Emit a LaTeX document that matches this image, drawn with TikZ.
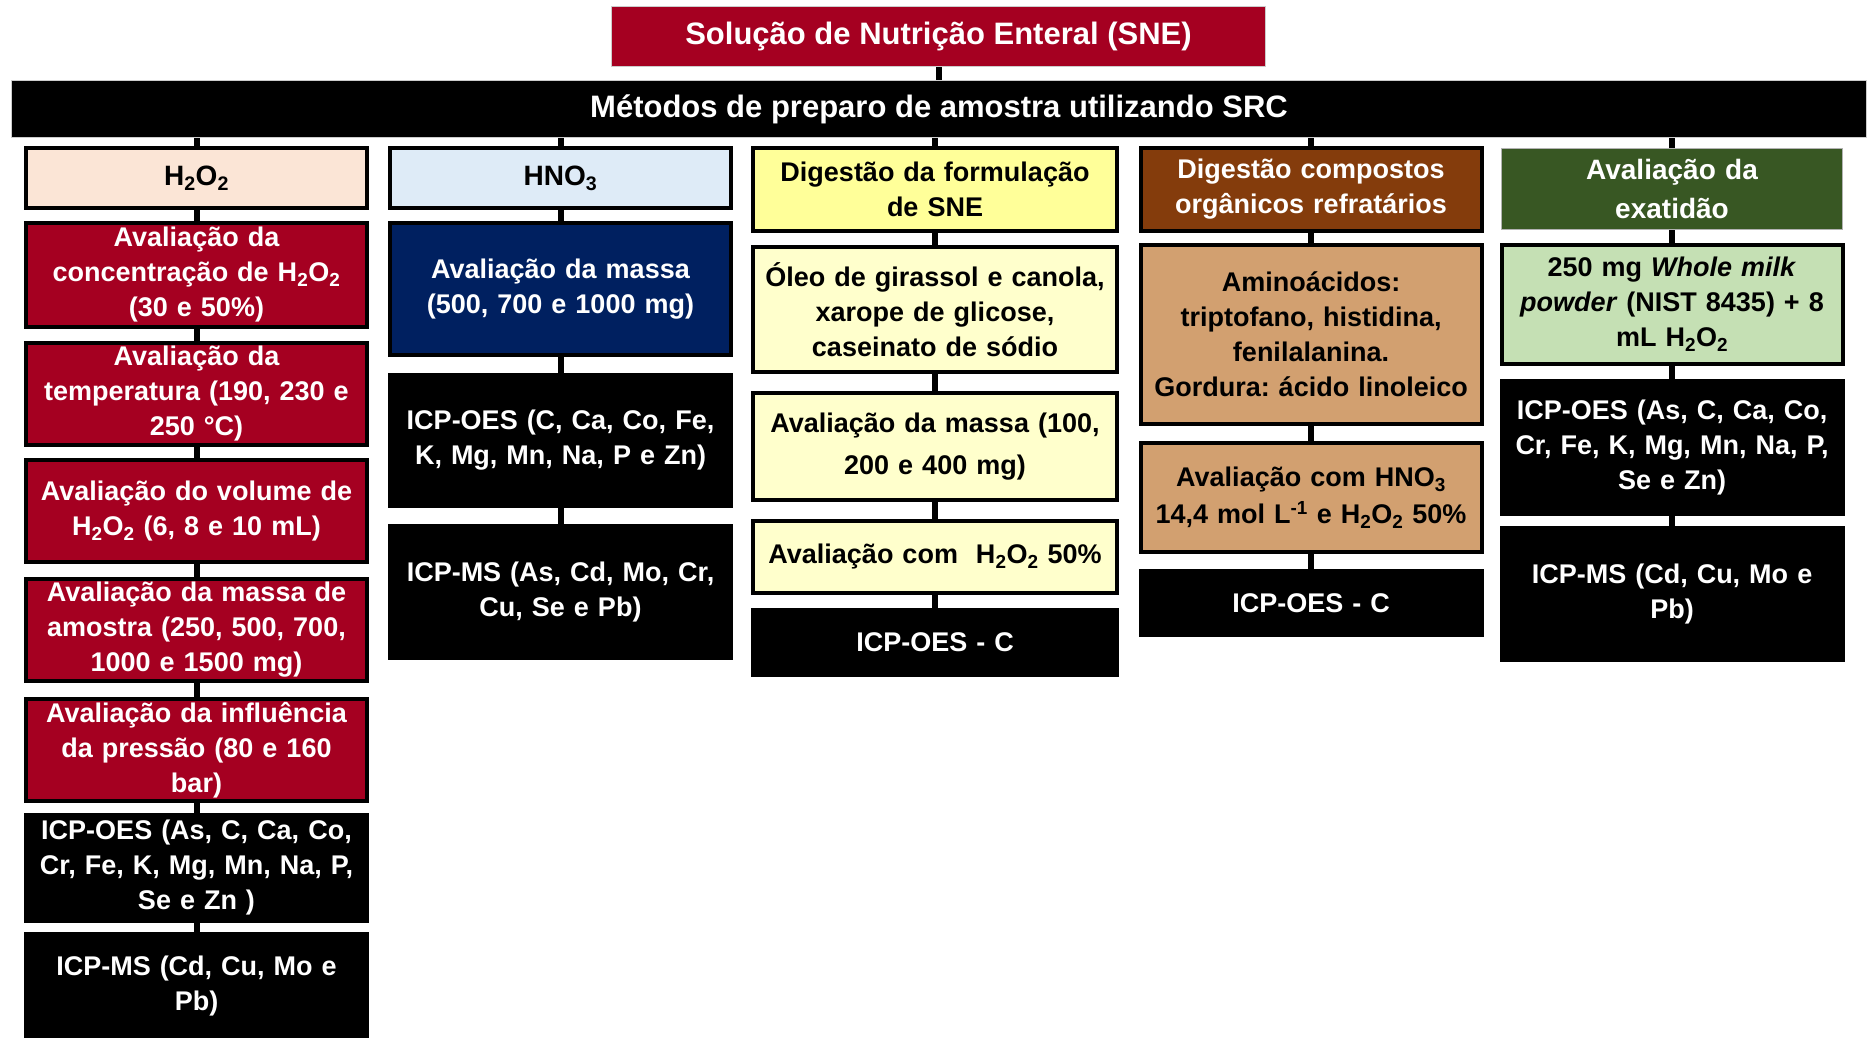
\documentclass[tikz,border=0pt]{standalone}
\usepackage{fontspec}
\setmainfont{Liberation Sans}
\usepackage{xcolor}
\usepackage{tikz}
\usetikzlibrary{positioning, calc}
\frenchspacing

\definecolor{sneRed}{RGB}{165,0,33}
\definecolor{srcPeach}{RGB}{251,229,214}
\definecolor{srcBlue}{RGB}{222,235,247}
\definecolor{srcNavy}{RGB}{0,32,96}
\definecolor{srcYellow}{RGB}{255,255,153}
\definecolor{srcCream}{RGB}{255,255,204}
\definecolor{srcBrown}{RGB}{132,60,12}
\definecolor{srcTan}{RGB}{210,160,112}
\definecolor{srcGreen}{RGB}{56,87,35}
\definecolor{srcMint}{RGB}{197,224,180}

\newcommand{\hoo}{H\textsubscript{2}O\textsubscript{2}}
\newcommand{\hno}{HNO\textsubscript{3}}

\begin{document}
\begin{tikzpicture}[
    x=1pt, y=-1pt,
    box/.style={rectangle, draw=black, line width=4pt, align=center, inner sep=0pt, font=\bfseries\fontsize{27}{35}\selectfont},
    narrowcol/.style={box, minimum width=341pt, text width=330pt},
    widecol/.style={box, minimum width=364pt, text width=352pt},
    redbox/.style={narrowcol, fill=sneRed, text=white},
    darkbox/.style={fill=black, text=white},
    headfont/.style={font=\bfseries\fontsize{28}{35}\selectfont},
    banner/.style={rectangle, draw=gray!40, line width=1pt, inner sep=0pt, text=white, font=\bfseries\fontsize{31}{36}\selectfont},
    link/.style={draw, line width=6pt}
]
    \useasboundingbox (0,0) rectangle (1867,1037);

    \node[banner, fill=sneRed, minimum width=654pt, minimum height=60pt] (sne) at (938.5,36.5) {Solução de Nutrição Enteral (SNE)};
    \node[banner, fill=black, minimum width=1855pt, minimum height=57pt] (src) at (939,109) {Métodos de preparo de amostra utilizando SRC};

    \node[narrowcol, headfont, fill=srcPeach, minimum height=60pt] (hp) at (196.5,178) {\hoo};
    \node[redbox, minimum height=104pt] (hp1) at (196.5,275) {Avaliação da\\concentração de \hoo\\(30 e 50\%)};
    \node[redbox, minimum height=102pt] (hp2) at (196.5,394) {Avaliação da\\temperatura (190, 230 e\\250 °C)};
    \node[redbox, minimum height=102pt] (hp3) at (196.5,511) {Avaliação do volume de\\\hoo{} (6, 8 e 10 mL)};
    \node[redbox, minimum height=102pt] (hp4) at (196.5,630) {Avaliação da massa de\\amostra (250, 500, 700,\\1000 e 1500 mg)};
    \node[redbox, minimum height=102pt] (hp5) at (196.5,750) {Avaliação da influência\\da pressão (80 e 160\\bar)};
    \node[narrowcol, darkbox, minimum height=106pt] (hp6) at (196.5,868) {ICP-OES (As, C, Ca, Co,\\Cr, Fe, K, Mg, Mn, Na, P,\\Se e Zn )};
    \node[narrowcol, darkbox, minimum height=104pt] (hp7) at (196.5,986) {ICP-MS (Cd, Cu, Mo e\\Pb)};

    \node[narrowcol, headfont, fill=srcBlue, minimum height=60pt] (hn) at (560.5,178) {\hno};
    \node[narrowcol, fill=srcNavy, text=white, minimum height=132pt] (hn1) at (560.5,289) {Avaliação da massa\\(500, 700 e 1000 mg)};
    \node[narrowcol, darkbox, minimum height=131pt] (hn2) at (560.5,440.5) {ICP-OES (C, Ca, Co, Fe,\\K, Mg, Mn, Na, P e Zn)};
    \node[narrowcol, darkbox, minimum height=132pt] (hn3) at (560.5,592) {ICP-MS (As, Cd, Mo, Cr,\\Cu, Se e Pb)};

    \node[widecol, fill=srcYellow, minimum height=83pt] (dg) at (935,189.5) {Digestão da formulação\\de SNE};
    \node[widecol, fill=srcCream, minimum height=125pt] (dg1) at (935,309.5) {Óleo de girassol e canola,\\xarope de glicose,\\caseinato de sódio};
    \node[widecol, fill=srcCream, minimum height=107pt, font=\bfseries\fontsize{27}{42}\selectfont] (dg2) at (935,446.5) {Avaliação da massa (100,\\200 e 400 mg)};
    \node[widecol, fill=srcCream, minimum height=72pt] (dg3) at (935,557) {Avaliação com\ \ \hoo{} 50\%};
    \node[widecol, darkbox, minimum height=65pt] (dg4) at (935,642.5) {ICP-OES - C};

    \node[narrowcol, fill=srcBrown, text=white, minimum height=83pt] (dr) at (1311,189.5) {Digestão compostos\\orgânicos refratários};
    \node[narrowcol, fill=srcTan, minimum height=179pt] (dr1) at (1311,334.5) {Aminoácidos:\\triptofano, histidina,\\fenilalanina.\\Gordura: ácido linoleico};
    \node[narrowcol, fill=srcTan, minimum height=109pt, font=\bfseries\fontsize{27}{37}\selectfont] (dr2) at (1311,497.5) {Avaliação com \hno\\14,4 mol L\textsuperscript{-1} e \hoo{} 50\%};
    \node[narrowcol, darkbox, minimum height=64pt] (dr3) at (1311,603) {ICP-OES - C};

    \node[narrowcol, headfont, fill=srcGreen, draw=gray!60, line width=1pt, text=white, minimum height=81pt, font=\bfseries\fontsize{28}{39}\selectfont] (ex) at (1672,189) {Avaliação da\\exatidão};
    \node[narrowcol, fill=srcMint, minimum height=119pt] (ex1) at (1672,304.5) {250 mg \textit{Whole milk}\\\textit{powder} (NIST 8435) + 8\\mL \hoo};
    \node[narrowcol, darkbox, minimum height=133pt] (ex2) at (1672,447.5) {ICP-OES (As, C, Ca, Co,\\Cr, Fe, K, Mg, Mn, Na, P,\\Se e Zn)};
    \node[narrowcol, darkbox, minimum height=132pt] (ex3) at (1672,594) {ICP-MS (Cd, Cu, Mo e\\Pb)};

    \draw[link] (sne.south) -- (sne.south |- src.north);
    \draw[link] (src.south -| hp.north) -- (hp.north);
    \draw[link] (src.south -| hn.north) -- (hn.north);
    \draw[link] (src.south -| dg.north) -- (dg.north);
    \draw[link] (src.south -| dr.north) -- (dr.north);
    \draw[link] (src.south -| ex.north) -- (ex.north);

    \draw[link] (hp) -- (hp1) (hp1) -- (hp2) (hp2) -- (hp3) (hp3) -- (hp4) (hp4) -- (hp5) (hp5) -- (hp6) (hp6) -- (hp7);
    \draw[link] (hn) -- (hn1) (hn1) -- (hn2) (hn2) -- (hn3);
    \draw[link] (dg) -- (dg1) (dg1) -- (dg2) (dg2) -- (dg3) (dg3) -- (dg4);
    \draw[link] (dr) -- (dr1) (dr1) -- (dr2) (dr2) -- (dr3);
    \draw[link] (ex) -- (ex1) (ex1) -- (ex2) (ex2) -- (ex3);

\end{tikzpicture}
\end{document}
